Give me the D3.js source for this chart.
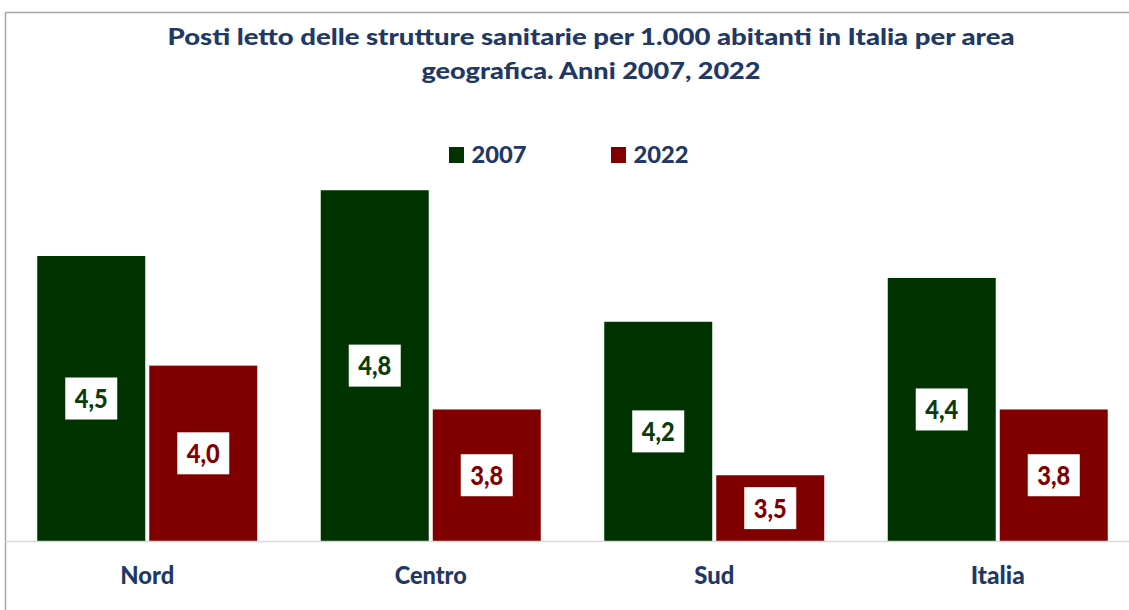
<!DOCTYPE html>
<html><head><meta charset="utf-8">
<script src="https://cdn.jsdelivr.net/npm/d3@7"></script>
<style>
html,body{margin:0;padding:0;background:#fff;}
svg{display:block;font-family:Lato,"Open Sans",sans-serif;}
</style></head>
<body><svg id="c" width="1129" height="610"></svg>
<script>
const categories = ["Nord","Centro","Sud","Italia"];
const seriesNames = ["2007","2022"];
const values2007 = [4.5,4.8,4.2,4.4];
const values2022 = [4.0,3.8,3.5,3.8];
const valueLabels2007 = ["4,5","4,8","4,2","4,4"];
const valueLabels2022 = ["4,0","3,8","3,5","3,8"];
const titleLines = ["Posti letto delle strutture sanitarie per 1.000 abitanti in Italia per area","geografica. Anni 2007, 2022"];

const colors = {"2007":"#003300","2022":"#800000"};
const labelColors = {"2007":"#0b3d0b","2022":"#800000"};
const navy = "#1f3864";
const catWidths = {"Nord":54,"Centro":72,"Sud":40,"Italia":54};

const svg = d3.select("#c");

// frame
svg.append("path").attr("d","M5.5,610 V12.5 H1129").attr("fill","none").attr("stroke","#a6a6a6").attr("stroke-width",1.5);

// title
const t1 = svg.append("text").attr("x",591).attr("y",45).attr("text-anchor","middle")
  .attr("font-size",23).attr("font-weight","900").attr("fill",navy).text(titleLines[0]);
t1.attr("textLength",847).attr("lengthAdjust","spacingAndGlyphs");
const t2 = svg.append("text").attr("x",591).attr("y",79).attr("text-anchor","middle")
  .attr("font-size",23).attr("font-weight","900").attr("fill",navy).text(titleLines[1]);
t2.attr("textLength",339).attr("lengthAdjust","spacingAndGlyphs");

const data = categories.map((c,i)=>({cat:c, vals:[
  {s:"2007", v:values2007[i], lab:valueLabels2007[i]},
  {s:"2022", v:values2022[i], lab:valueLabels2022[i]}]}));

const x0 = d3.scaleBand().domain(categories).range([5.5,1139.5]).paddingInner(0.224).paddingOuter(0.112);
const x1 = d3.scaleBand().domain(seriesNames).range([0,x0.bandwidth()]).paddingInner(0.036);
const y = d3.scaleLinear().domain([3.2,5.0]).range([541,146.4]);

// legend
const legX = {"2007":449,"2022":611};
seriesNames.forEach(s=>{
  svg.append("rect").attr("x",legX[s]).attr("y",147).attr("width",15).attr("height",16).attr("fill",colors[s]);
  svg.append("text").attr("x",legX[s]+22.5).attr("y",163).attr("font-size",23).attr("font-weight","900")
    .attr("fill",navy).text(s).attr("textLength",55).attr("lengthAdjust","spacingAndGlyphs");
});

const g = svg.append("g").selectAll("g").data(data).join("g")
  .attr("transform",d=>`translate(${x0(d.cat)},0)`);

g.selectAll("rect.bar").data(d=>d.vals).join("rect").attr("class","bar")
  .attr("x",d=>x1(d.s)).attr("width",x1.bandwidth())
  .attr("y",d=>y(d.v)).attr("height",d=>y(3.2)-y(d.v))
  .attr("fill",d=>colors[d.s]);

const lab = g.selectAll("g.lab").data(d=>d.vals).join("g").attr("class","lab")
  .attr("transform",d=>`translate(${x1(d.s)+x1.bandwidth()/2},${(y(d.v)+y(3.2))/2})`);
lab.append("rect").attr("x",-26).attr("y",-21).attr("width",52).attr("height",42).attr("fill","#fff");
lab.append("text").attr("text-anchor","middle").attr("y",9.5).attr("font-size",26).attr("font-weight","900")
  .attr("fill",d=>labelColors[d.s]).text(d=>d.lab)
  .attr("textLength",33).attr("lengthAdjust","spacingAndGlyphs");

// baseline
svg.append("line").attr("x1",5.5).attr("x2",1129).attr("y1",541.5).attr("y2",541.5)
  .attr("stroke","#d9d9d9").attr("stroke-width",1.5);

// x axis labels
const xAxis = d3.axisBottom(x0).tickSize(0).tickPadding(0);
const ax = svg.append("g").attr("transform","translate(0,541)").call(xAxis);
ax.select(".domain").remove();
ax.selectAll("text").attr("y",43).attr("dy",0).attr("font-size",24).attr("font-weight","900")
  .attr("fill",navy).attr("font-family","Lato,'Open Sans',sans-serif")
  .attr("textLength",d=>catWidths[d]).attr("lengthAdjust","spacingAndGlyphs");
</script>
</body></html>
